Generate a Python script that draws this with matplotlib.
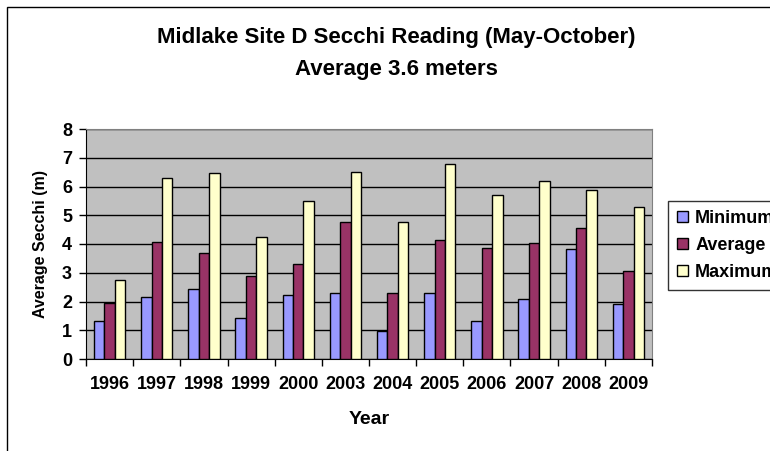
import matplotlib
matplotlib.use('Agg')
import matplotlib.pyplot as plt
import numpy as np
from matplotlib.patches import Rectangle, Patch

plt.rcParams['font.family'] = ['Liberation Sans', 'DejaVu Sans']
plt.rcParams['font.weight'] = 'bold'

# Secchi depth (m)
years = ['1996', '1997', '1998', '1999', '2000', '2003', '2004', '2005', '2006', '2007', '2008', '2009']
minimum = [1.32, 2.16, 2.42, 1.42, 2.22, 2.28, 0.96, 2.28, 1.32, 2.10, 3.81, 1.90]
average = [1.96, 4.06, 3.69, 2.90, 3.32, 4.76, 2.28, 4.13, 3.87, 4.02, 4.55, 3.07]
maximum = [2.74, 6.30, 6.46, 4.24, 5.51, 6.52, 4.76, 6.78, 5.72, 6.18, 5.87, 5.28]
series = ['Minimum', 'Average', 'Maximum']
colors = ['#9999FF', '#993366', '#FFFFCC']

W, H = 770, 451
fig = plt.figure(figsize=(W / 100, H / 100), dpi=100)
# outer chart border (right/bottom run off the image)
fig.patches.append(Rectangle((7 / W, -0.1), 1.2, 1 - 7 / H + 0.1, transform=fig.transFigure,
                             fill=False, ec='black', lw=1.0))

ax = fig.add_axes([86 / W, 1 - 359 / H, (652 - 86) / W, (359 - 129) / H])
ax.set_facecolor('#C0C0C0')

x = np.arange(len(years))
w = 1 / 4.5
for i, (vals, c) in enumerate(zip([minimum, average, maximum], colors)):
    ax.bar(x + (i - 1) * w, vals, w, color=c, edgecolor='black', linewidth=1.0, zorder=3)

ax.set_xlim(-0.5, len(years) - 0.5)
ax.set_ylim(0, 8)
ax.set_yticks(range(0, 9))
ax.yaxis.grid(True, color='black', lw=1.0, zorder=1)
ax.set_axisbelow(True)
ax.set_xticks(x)
ax.set_xticklabels(years, fontsize=13, fontweight='bold')
ax.set_xticks(np.arange(-0.5, len(years)), minor=True)
ax.tick_params(axis='x', which='major', length=0, pad=12)
ax.tick_params(axis='x', which='minor', length=5, width=1, direction='out')
ax.tick_params(axis='y', length=5, width=1, direction='out', labelsize=13, pad=5)
for lab in ax.get_yticklabels():
    lab.set_fontweight('bold')
for side in ['top', 'right']:
    ax.spines[side].set_color('#808080')
for side in ['left', 'bottom']:
    ax.spines[side].set_color('black')

ax.set_xlabel('Year', fontsize=14, fontweight='bold', labelpad=13)
ax.set_ylabel('Average Secchi (m)', fontsize=11.5, fontweight='bold', labelpad=10)

fig.text(396 / W, 1 - 38 / H, 'Midlake Site D Secchi Reading (May-October)', ha='center', va='center',
         fontsize=16, fontweight='bold')
fig.text(396 / W, 1 - 70 / H, 'Average 3.6 meters', ha='center', va='center', fontsize=16, fontweight='bold')

handles = [Patch(facecolor=c, edgecolor='black', lw=1.0) for c in colors]
leg = fig.legend(handles, series, loc='upper left', bbox_to_anchor=(668 / W, 1 - 201 / H),
                 fontsize=13, frameon=True, fancybox=False, handlelength=0.6, handleheight=0.6,
                 handletextpad=0.4, borderpad=0.5, labelspacing=0.55, borderaxespad=0)
leg.get_frame().set_edgecolor('black')
leg.get_frame().set_linewidth(1.0)
for t in leg.get_texts():
    t.set_fontweight('bold')

fig.savefig('out.png', dpi=100)
